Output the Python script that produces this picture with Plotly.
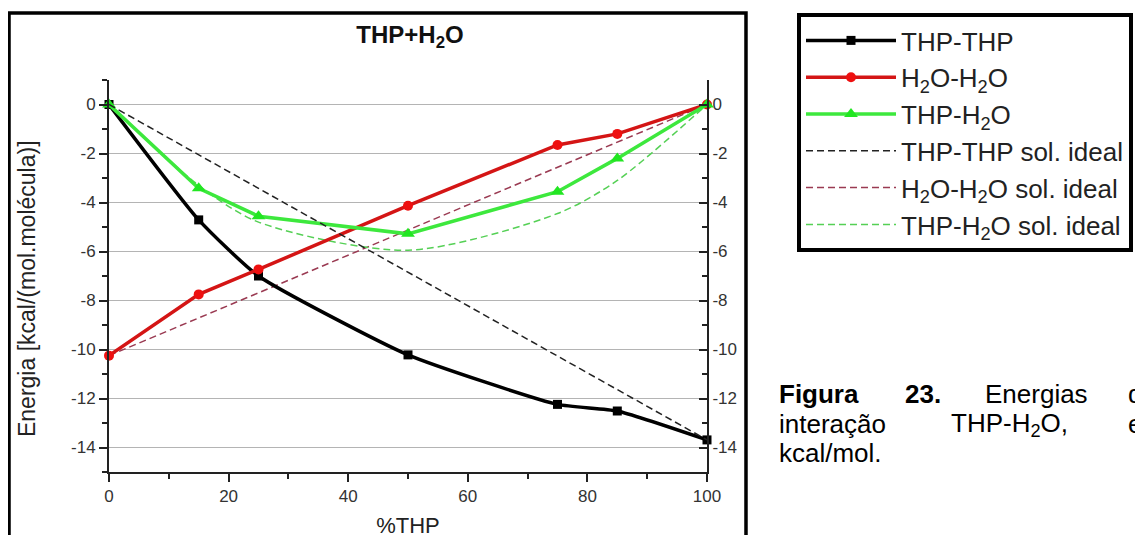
import plotly.graph_objects as go

# ---------------- data ----------------
pct_thp = [0, 15, 25, 50, 75, 85, 100]
thp_thp = [0, -4.71, -7.0, -10.22, -12.24, -12.51, -13.69]
h2o_h2o = [-10.25, -7.75, -6.73, -4.13, -1.65, -1.2, 0]
thp_h2o = [0, -3.42, -4.56, -5.28, -3.56, -2.2, 0]
thp_thp_ideal = [0, -2.05, -3.42, -6.85, -10.27, -11.64, -13.69]
h2o_h2o_ideal = [-10.25, -8.71, -7.69, -5.13, -2.56, -1.54, 0]
thp_h2o_ideal = [0, -3.3, -4.8, -5.95, -4.45, -3.1, 0]

y_tickvals = [0, -2, -4, -6, -8, -10, -12, -14]
y_ticktext = ["0", "-2", "-4", "-6", "-8", "-10", "-12", "-14"]
x_tickvals = [0, 20, 40, 60, 80, 100]
x_ticktext = ["0", "20", "40", "60", "80", "100"]

FONT = "Liberation Sans, Arial, sans-serif"
OFF = 8  # page body margin in the browser

fig = go.Figure()

# dashed "ideal solution" curves
fig.add_trace(go.Scatter(
    x=pct_thp, y=h2o_h2o_ideal, mode="lines", name="H<sub>2</sub>O-H<sub>2</sub>O sol. ideal",
    line=dict(color="#9a3a52", width=1.5, dash="7px,4px"),
    legendrank=5, legendgroup="g5", cliponaxis=False))
fig.add_trace(go.Scatter(
    x=pct_thp, y=thp_h2o_ideal, mode="lines", name="THP-H<sub>2</sub>O sol. ideal",
    line=dict(color="#55d055", width=1.5, dash="7px,4px", shape="spline", smoothing=0.8),
    legendrank=6, legendgroup="g6", cliponaxis=False))

# simulated curves
fig.add_trace(go.Scatter(
    x=pct_thp, y=thp_thp, mode="lines+markers", name="THP-THP",
    line=dict(color="#000000", width=3.5, shape="spline", smoothing=0.5),
    marker=dict(symbol="square", size=9, color="#000000"),
    legendrank=1, legendgroup="g1", cliponaxis=False))
fig.add_trace(go.Scatter(
    x=pct_thp, y=h2o_h2o, mode="lines+markers", name="H<sub>2</sub>O-H<sub>2</sub>O",
    line=dict(color="#d41515", width=3.5),
    marker=dict(symbol="circle", size=10, color="#ee1010"),
    legendrank=2, legendgroup="g2", cliponaxis=False))
fig.add_trace(go.Scatter(
    x=pct_thp, y=thp_h2o, mode="lines+markers", name="THP-H<sub>2</sub>O",
    line=dict(color="#3de83d", width=3.5),
    marker=dict(symbol="triangle-up", size=12, color="#22e622"),
    legendrank=3, legendgroup="g3", cliponaxis=False))

# THP-THP ideal line drawn against the mirrored right axis (same range)
fig.add_trace(go.Scatter(
    x=pct_thp, y=thp_thp_ideal, mode="lines", name="THP-THP sol. ideal",
    line=dict(color="#222222", width=1.5, dash="7px,4px"),
    legendrank=4, legendgroup="g4", cliponaxis=False, yaxis="y2"))

# outer frame
fig.add_shape(type="rect", xref="paper", yref="paper",
              x0=-0.1672, x1=1.0652, y0=-0.25, y1=1.1709,
              line=dict(color="black", width=3.5), fillcolor="rgba(0,0,0,0)", layer="below")

# y-axis title
fig.add_annotation(text="Energia [kcal/(mol.molécula)]", xref="paper", yref="paper",
                   x=-0.137, y=0.467, textangle=-90, showarrow=False,
                   xanchor="center", yanchor="middle",
                   font=dict(family=FONT, size=23, color="#222222"))

# caption (justified words)
cap = [
    ("<b>Figura</b>", 777, 394), ("<b>23.</b>", 903, 394), ("Energias", 983, 394), ("de", 1126, 394),
    ("interação", 777, 424), ("THP-H<sub>2</sub>O,", 949, 424), ("em", 1126, 424),
    ("kcal/mol.", 777, 453),
]
for t, px, py in cap:
    fig.add_annotation(text=t, xref="paper", yref="paper",
                       x=(px - 109) / 598, y=(472 - py) / 392,
                       xanchor="left", yanchor="middle", showarrow=False,
                       font=dict(family=FONT, size=26, color="#000000"))

fig.update_layout(
    width=1143, height=535,
    margin=dict(l=109 - OFF, r=1143 - (707 - OFF), t=80 - OFF, b=535 - (472 - OFF), autoexpand=False),
    paper_bgcolor="white", plot_bgcolor="white",
    font=dict(family=FONT, color="#333333"),
    title=dict(text="<b>THP+H<sub>2</sub>O</b>", x=(410 - OFF) / 1143, xref="container", xanchor="center",
               y=(535 - (35 - OFF)) / 535, yref="container", yanchor="middle",
               font=dict(family=FONT, size=24, color="#111111")),
    showlegend=True,
    legend=dict(x=(797 - 109) / 598, y=(472 - 13) / 392, xanchor="left", yanchor="top",
                bgcolor="white", bordercolor="black", borderwidth=4,
                font=dict(family=FONT, size=26, color="#222222"),
                itemwidth=90, tracegroupgap=3, traceorder="normal"),
    xaxis=dict(range=[0, 100], tickvals=x_tickvals, ticktext=x_ticktext,
               showline=True, linecolor="#222222", linewidth=2,
               ticks="outside", ticklen=8, tickwidth=2, tickcolor="#222222",
               minor=dict(dtick=10, ticks="outside", ticklen=5, tickwidth=2, tickcolor="#222222"),
               showgrid=False, zeroline=False,
               tickfont=dict(family=FONT, size=17, color="#333333"),
               title=dict(text="%THP", standoff=12, font=dict(family=FONT, size=22, color="#222222"))),
    yaxis=dict(range=[-15, 1], tickvals=y_tickvals, ticktext=y_ticktext,
               showline=True, linecolor="#222222", linewidth=2,
               ticks="outside", ticklen=8, tickwidth=2, tickcolor="#222222",
               minor=dict(dtick=1, tick0=1, ticks="outside", ticklen=5, tickwidth=2, tickcolor="#222222"),
               showgrid=True, gridcolor="#b4b4b4", gridwidth=1, zeroline=False,
               tickfont=dict(family=FONT, size=17, color="#333333")),
    yaxis2=dict(range=[-15, 1], tickvals=y_tickvals, ticktext=y_ticktext,
                overlaying="y", side="right", anchor="x",
                showline=True, linecolor="#222222", linewidth=2,
                ticks="inside", ticklen=8, tickwidth=2, tickcolor="#222222",
                minor=dict(dtick=1, tick0=1, ticks="inside", ticklen=5, tickwidth=2, tickcolor="#222222"),
                showgrid=False, zeroline=False,
                tickfont=dict(family=FONT, size=17, color="#333333")),
)

fig.write_html("out.html")
